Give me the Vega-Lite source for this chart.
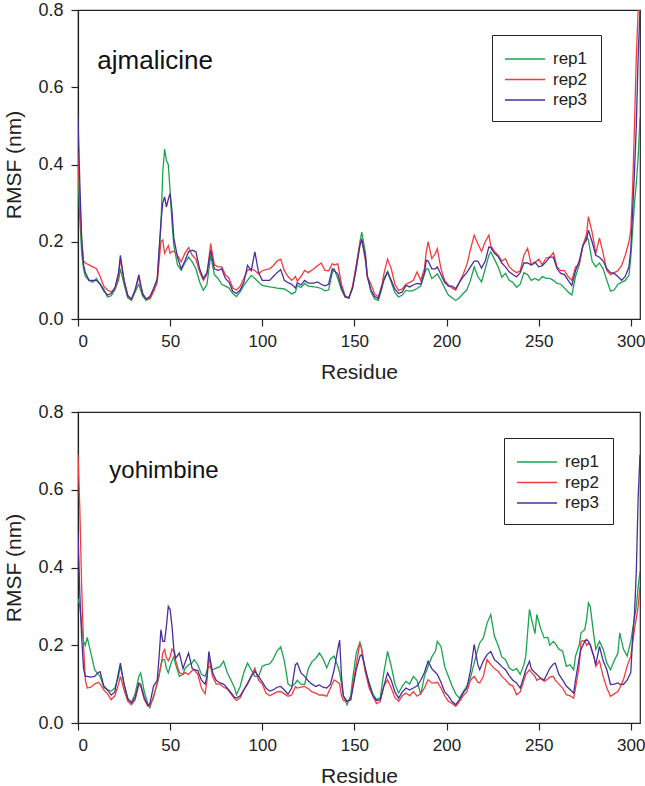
{
  "$schema": "https://vega.github.io/schema/vega-lite/v6.json",
  "background": "white",
  "padding": {"left": 3, "top": 0, "right": 6, "bottom": 0},
  "config": {
    "font": "Liberation Sans",
    "view": {"stroke": "#222", "strokeWidth": 1.2},
    "axis": {
      "grid": false,
      "domainColor": "#222",
      "domainWidth": 1.2,
      "tickColor": "#222",
      "tickWidth": 1.2,
      "tickSize": 7,
      "labelColor": "#222",
      "titleColor": "#222",
      "labelFont": "Liberation Sans",
      "titleFont": "Liberation Sans",
      "titleFontWeight": "normal",
      "labelFontSize": 17,
      "titleFontSize": 21
    },
    "legend": {
      "symbolType": "M-2,0H2",
      "symbolSize": 400,
      "symbolStrokeWidth": 1.5,
      "symbolOffset": 9,
      "labelFontSize": 17,
      "labelFont": "Liberation Sans",
      "labelColor": "#222",
      "labelOffset": 17,
      "rowPadding": 1.5,
      "padding": 13,
      "strokeColor": "#222",
      "fillColor": "white"
    }
  },
  "datasets": {
    "ajmalicine": [
      {"r":0,"rep1":0.38,"rep2":0.43,"rep3":0.52},
      {"r":1,"rep1":0.26,"rep2":0.30,"rep3":0.35},
      {"r":2,"rep1":0.17,"rep2":0.20,"rep3":0.21},
      {"r":3,"rep1":0.13,"rep2":0.15,"rep3":0.14},
      {"r":4,"rep1":0.11,"rep2":0.145,"rep3":0.12},
      {"r":6,"rep1":0.10,"rep2":0.14,"rep3":0.10},
      {"r":8,"rep1":0.095,"rep2":0.135,"rep3":0.10},
      {"r":10,"rep1":0.105,"rep2":0.13,"rep3":0.10},
      {"r":12,"rep1":0.09,"rep2":0.11,"rep3":0.09},
      {"r":14,"rep1":0.078,"rep2":0.085,"rep3":0.072},
      {"r":16,"rep1":0.057,"rep2":0.075,"rep3":0.062},
      {"r":18,"rep1":0.06,"rep2":0.07,"rep3":0.066},
      {"r":20,"rep1":0.075,"rep2":0.08,"rep3":0.08},
      {"r":22,"rep1":0.10,"rep2":0.11,"rep3":0.12},
      {"r":23,"rep1":0.13,"rep2":0.155,"rep3":0.165},
      {"r":25,"rep1":0.09,"rep2":0.10,"rep3":0.10},
      {"r":27,"rep1":0.055,"rep2":0.062,"rep3":0.06},
      {"r":29,"rep1":0.048,"rep2":0.05,"rep3":0.052},
      {"r":31,"rep1":0.07,"rep2":0.075,"rep3":0.075},
      {"r":33,"rep1":0.09,"rep2":0.108,"rep3":0.115},
      {"r":35,"rep1":0.06,"rep2":0.068,"rep3":0.065},
      {"r":37,"rep1":0.048,"rep2":0.05,"rep3":0.052},
      {"r":39,"rep1":0.055,"rep2":0.052,"rep3":0.058},
      {"r":41,"rep1":0.078,"rep2":0.07,"rep3":0.078},
      {"r":43,"rep1":0.10,"rep2":0.095,"rep3":0.105},
      {"r":45,"rep1":0.24,"rep2":0.20,"rep3":0.25},
      {"r":46,"rep1":0.38,"rep2":0.205,"rep3":0.30},
      {"r":47,"rep1":0.44,"rep2":0.17,"rep3":0.316},
      {"r":48,"rep1":0.41,"rep2":0.18,"rep3":0.29},
      {"r":49,"rep1":0.40,"rep2":0.19,"rep3":0.31},
      {"r":50,"rep1":0.33,"rep2":0.17,"rep3":0.325},
      {"r":51,"rep1":0.25,"rep2":0.175,"rep3":0.28},
      {"r":52,"rep1":0.19,"rep2":0.175,"rep3":0.21},
      {"r":54,"rep1":0.14,"rep2":0.165,"rep3":0.16},
      {"r":56,"rep1":0.126,"rep2":0.148,"rep3":0.13},
      {"r":58,"rep1":0.145,"rep2":0.17,"rep3":0.15},
      {"r":60,"rep1":0.16,"rep2":0.185,"rep3":0.174},
      {"r":62,"rep1":0.148,"rep2":0.165,"rep3":0.178},
      {"r":64,"rep1":0.13,"rep2":0.155,"rep3":0.174},
      {"r":66,"rep1":0.096,"rep2":0.122,"rep3":0.13},
      {"r":68,"rep1":0.074,"rep2":0.10,"rep3":0.105},
      {"r":70,"rep1":0.09,"rep2":0.115,"rep3":0.12},
      {"r":72,"rep1":0.165,"rep2":0.195,"rep3":0.178},
      {"r":74,"rep1":0.115,"rep2":0.14,"rep3":0.13},
      {"r":76,"rep1":0.105,"rep2":0.135,"rep3":0.126},
      {"r":78,"rep1":0.09,"rep2":0.135,"rep3":0.13},
      {"r":80,"rep1":0.085,"rep2":0.115,"rep3":0.105},
      {"r":82,"rep1":0.08,"rep2":0.105,"rep3":0.095},
      {"r":84,"rep1":0.066,"rep2":0.08,"rep3":0.072},
      {"r":86,"rep1":0.058,"rep2":0.075,"rep3":0.066},
      {"r":88,"rep1":0.07,"rep2":0.085,"rep3":0.075},
      {"r":90,"rep1":0.087,"rep2":0.105,"rep3":0.095},
      {"r":92,"rep1":0.10,"rep2":0.126,"rep3":0.139},
      {"r":94,"rep1":0.113,"rep2":0.13,"rep3":0.125},
      {"r":96,"rep1":0.105,"rep2":0.125,"rep3":0.174},
      {"r":98,"rep1":0.095,"rep2":0.117,"rep3":0.12},
      {"r":100,"rep1":0.087,"rep2":0.125,"rep3":0.10},
      {"r":102,"rep1":0.085,"rep2":0.128,"rep3":0.10},
      {"r":104,"rep1":0.083,"rep2":0.13,"rep3":0.10},
      {"r":106,"rep1":0.082,"rep2":0.138,"rep3":0.11},
      {"r":108,"rep1":0.08,"rep2":0.15,"rep3":0.12},
      {"r":110,"rep1":0.079,"rep2":0.155,"rep3":0.128},
      {"r":112,"rep1":0.078,"rep2":0.125,"rep3":0.10},
      {"r":114,"rep1":0.072,"rep2":0.11,"rep3":0.094},
      {"r":116,"rep1":0.065,"rep2":0.10,"rep3":0.09},
      {"r":118,"rep1":0.07,"rep2":0.11,"rep3":0.08},
      {"r":119,"rep1":0.087,"rep2":0.098,"rep3":0.094},
      {"r":121,"rep1":0.082,"rep2":0.11,"rep3":0.088},
      {"r":123,"rep1":0.092,"rep2":0.126,"rep3":0.10},
      {"r":125,"rep1":0.085,"rep2":0.12,"rep3":0.093},
      {"r":128,"rep1":0.083,"rep2":0.13,"rep3":0.093},
      {"r":130,"rep1":0.082,"rep2":0.138,"rep3":0.096},
      {"r":132,"rep1":0.079,"rep2":0.145,"rep3":0.09},
      {"r":134,"rep1":0.073,"rep2":0.126,"rep3":0.086},
      {"r":136,"rep1":0.075,"rep2":0.125,"rep3":0.09},
      {"r":138,"rep1":0.12,"rep2":0.143,"rep3":0.13},
      {"r":139,"rep1":0.13,"rep2":0.14,"rep3":0.125},
      {"r":141,"rep1":0.105,"rep2":0.143,"rep3":0.117},
      {"r":143,"rep1":0.075,"rep2":0.09,"rep3":0.08},
      {"r":145,"rep1":0.056,"rep2":0.06,"rep3":0.058},
      {"r":147,"rep1":0.055,"rep2":0.055,"rep3":0.054},
      {"r":149,"rep1":0.08,"rep2":0.085,"rep3":0.08},
      {"r":151,"rep1":0.135,"rep2":0.14,"rep3":0.13},
      {"r":153,"rep1":0.20,"rep2":0.195,"rep3":0.19},
      {"r":154,"rep1":0.225,"rep2":0.206,"rep3":0.206},
      {"r":156,"rep1":0.17,"rep2":0.15,"rep3":0.16},
      {"r":157,"rep1":0.113,"rep2":0.11,"rep3":0.11},
      {"r":159,"rep1":0.07,"rep2":0.09,"rep3":0.075},
      {"r":161,"rep1":0.052,"rep2":0.065,"rep3":0.058},
      {"r":163,"rep1":0.048,"rep2":0.057,"rep3":0.053},
      {"r":165,"rep1":0.08,"rep2":0.09,"rep3":0.085},
      {"r":166,"rep1":0.105,"rep2":0.117,"rep3":0.10},
      {"r":168,"rep1":0.122,"rep2":0.155,"rep3":0.122},
      {"r":170,"rep1":0.095,"rep2":0.13,"rep3":0.10},
      {"r":172,"rep1":0.068,"rep2":0.09,"rep3":0.077},
      {"r":174,"rep1":0.057,"rep2":0.074,"rep3":0.066},
      {"r":176,"rep1":0.062,"rep2":0.078,"rep3":0.07},
      {"r":178,"rep1":0.074,"rep2":0.09,"rep3":0.087},
      {"r":180,"rep1":0.072,"rep2":0.095,"rep3":0.083},
      {"r":182,"rep1":0.074,"rep2":0.10,"rep3":0.088},
      {"r":184,"rep1":0.079,"rep2":0.122,"rep3":0.092},
      {"r":186,"rep1":0.085,"rep2":0.10,"rep3":0.09},
      {"r":188,"rep1":0.115,"rep2":0.13,"rep3":0.12},
      {"r":189,"rep1":0.13,"rep2":0.174,"rep3":0.152},
      {"r":190,"rep1":0.13,"rep2":0.20,"rep3":0.15},
      {"r":192,"rep1":0.105,"rep2":0.156,"rep3":0.13},
      {"r":194,"rep1":0.112,"rep2":0.17,"rep3":0.13},
      {"r":195,"rep1":0.117,"rep2":0.182,"rep3":0.135},
      {"r":197,"rep1":0.10,"rep2":0.13,"rep3":0.115},
      {"r":199,"rep1":0.08,"rep2":0.10,"rep3":0.095},
      {"r":201,"rep1":0.062,"rep2":0.088,"rep3":0.085},
      {"r":203,"rep1":0.055,"rep2":0.08,"rep3":0.085},
      {"r":205,"rep1":0.048,"rep2":0.075,"rep3":0.079},
      {"r":207,"rep1":0.055,"rep2":0.095,"rep3":0.095},
      {"r":209,"rep1":0.066,"rep2":0.115,"rep3":0.109},
      {"r":211,"rep1":0.075,"rep2":0.14,"rep3":0.12},
      {"r":213,"rep1":0.10,"rep2":0.18,"rep3":0.135},
      {"r":215,"rep1":0.135,"rep2":0.217,"rep3":0.15},
      {"r":217,"rep1":0.11,"rep2":0.195,"rep3":0.15},
      {"r":219,"rep1":0.096,"rep2":0.175,"rep3":0.132},
      {"r":221,"rep1":0.13,"rep2":0.20,"rep3":0.15},
      {"r":223,"rep1":0.165,"rep2":0.217,"rep3":0.187},
      {"r":224,"rep1":0.174,"rep2":0.19,"rep3":0.185},
      {"r":226,"rep1":0.155,"rep2":0.175,"rep3":0.17},
      {"r":228,"rep1":0.135,"rep2":0.165,"rep3":0.162},
      {"r":230,"rep1":0.108,"rep2":0.15,"rep3":0.145},
      {"r":232,"rep1":0.118,"rep2":0.156,"rep3":0.135},
      {"r":234,"rep1":0.10,"rep2":0.135,"rep3":0.122},
      {"r":236,"rep1":0.095,"rep2":0.126,"rep3":0.115},
      {"r":238,"rep1":0.082,"rep2":0.12,"rep3":0.109},
      {"r":240,"rep1":0.09,"rep2":0.125,"rep3":0.12},
      {"r":242,"rep1":0.12,"rep2":0.165,"rep3":0.145},
      {"r":244,"rep1":0.115,"rep2":0.183,"rep3":0.145},
      {"r":246,"rep1":0.10,"rep2":0.14,"rep3":0.14},
      {"r":248,"rep1":0.105,"rep2":0.145,"rep3":0.148},
      {"r":250,"rep1":0.10,"rep2":0.155,"rep3":0.135},
      {"r":252,"rep1":0.11,"rep2":0.14,"rep3":0.138},
      {"r":254,"rep1":0.105,"rep2":0.158,"rep3":0.148},
      {"r":256,"rep1":0.105,"rep2":0.16,"rep3":0.16},
      {"r":258,"rep1":0.10,"rep2":0.172,"rep3":0.16},
      {"r":260,"rep1":0.092,"rep2":0.135,"rep3":0.13},
      {"r":262,"rep1":0.09,"rep2":0.125,"rep3":0.118},
      {"r":264,"rep1":0.08,"rep2":0.125,"rep3":0.115},
      {"r":266,"rep1":0.07,"rep2":0.11,"rep3":0.10},
      {"r":268,"rep1":0.062,"rep2":0.10,"rep3":0.087},
      {"r":270,"rep1":0.11,"rep2":0.135,"rep3":0.125},
      {"r":272,"rep1":0.14,"rep2":0.14,"rep3":0.15},
      {"r":274,"rep1":0.19,"rep2":0.19,"rep3":0.19},
      {"r":276,"rep1":0.212,"rep2":0.22,"rep3":0.205},
      {"r":277,"rep1":0.205,"rep2":0.265,"rep3":0.23},
      {"r":279,"rep1":0.15,"rep2":0.225,"rep3":0.20},
      {"r":281,"rep1":0.135,"rep2":0.17,"rep3":0.165},
      {"r":283,"rep1":0.145,"rep2":0.21,"rep3":0.16},
      {"r":285,"rep1":0.13,"rep2":0.17,"rep3":0.15},
      {"r":287,"rep1":0.10,"rep2":0.125,"rep3":0.13},
      {"r":289,"rep1":0.072,"rep2":0.115,"rep3":0.12},
      {"r":291,"rep1":0.075,"rep2":0.12,"rep3":0.118},
      {"r":293,"rep1":0.09,"rep2":0.125,"rep3":0.11},
      {"r":295,"rep1":0.095,"rep2":0.138,"rep3":0.10},
      {"r":297,"rep1":0.10,"rep2":0.165,"rep3":0.11},
      {"r":299,"rep1":0.113,"rep2":0.20,"rep3":0.135},
      {"r":300,"rep1":0.16,"rep2":0.23,"rep3":0.18},
      {"r":301,"rep1":0.23,"rep2":0.34,"rep3":0.28},
      {"r":302,"rep1":0.30,"rep2":0.50,"rep3":0.38},
      {"r":303,"rep1":0.35,"rep2":0.68,"rep3":0.50},
      {"r":304,"rep1":0.42,"rep2":0.80,"rep3":0.68},
      {"r":305,"rep1":0.52,"rep2":0.80,"rep3":0.80}
    ],
    "yohimbine": [
      {"r":0,"rep1":0.32,"rep2":0.69,"rep3":0.49},
      {"r":1,"rep1":0.30,"rep2":0.55,"rep3":0.33},
      {"r":2,"rep1":0.25,"rep2":0.35,"rep3":0.22},
      {"r":3,"rep1":0.21,"rep2":0.20,"rep3":0.14},
      {"r":4,"rep1":0.20,"rep2":0.11,"rep3":0.12},
      {"r":5,"rep1":0.22,"rep2":0.09,"rep3":0.12},
      {"r":7,"rep1":0.18,"rep2":0.092,"rep3":0.118},
      {"r":9,"rep1":0.137,"rep2":0.10,"rep3":0.12},
      {"r":11,"rep1":0.125,"rep2":0.105,"rep3":0.13},
      {"r":12,"rep1":0.12,"rep2":0.10,"rep3":0.132},
      {"r":14,"rep1":0.092,"rep2":0.085,"rep3":0.095},
      {"r":16,"rep1":0.085,"rep2":0.075,"rep3":0.085},
      {"r":18,"rep1":0.082,"rep2":0.06,"rep3":0.072},
      {"r":20,"rep1":0.09,"rep2":0.07,"rep3":0.08},
      {"r":22,"rep1":0.12,"rep2":0.10,"rep3":0.13},
      {"r":23,"rep1":0.146,"rep2":0.12,"rep3":0.154},
      {"r":25,"rep1":0.10,"rep2":0.085,"rep3":0.10},
      {"r":27,"rep1":0.064,"rep2":0.056,"rep3":0.062},
      {"r":29,"rep1":0.052,"rep2":0.047,"rep3":0.052},
      {"r":31,"rep1":0.075,"rep2":0.06,"rep3":0.065},
      {"r":33,"rep1":0.12,"rep2":0.099,"rep3":0.103},
      {"r":34,"rep1":0.129,"rep2":0.095,"rep3":0.10},
      {"r":36,"rep1":0.08,"rep2":0.06,"rep3":0.065},
      {"r":38,"rep1":0.048,"rep2":0.043,"rep3":0.045},
      {"r":39,"rep1":0.039,"rep2":0.045,"rep3":0.05},
      {"r":41,"rep1":0.07,"rep2":0.065,"rep3":0.095},
      {"r":43,"rep1":0.10,"rep2":0.105,"rep3":0.11},
      {"r":44,"rep1":0.12,"rep2":0.125,"rep3":0.17},
      {"r":45,"rep1":0.15,"rep2":0.146,"rep3":0.24},
      {"r":46,"rep1":0.163,"rep2":0.18,"rep3":0.21},
      {"r":47,"rep1":0.163,"rep2":0.189,"rep3":0.21},
      {"r":48,"rep1":0.14,"rep2":0.167,"rep3":0.25},
      {"r":49,"rep1":0.129,"rep2":0.16,"rep3":0.30},
      {"r":50,"rep1":0.146,"rep2":0.17,"rep3":0.292},
      {"r":51,"rep1":0.16,"rep2":0.19,"rep3":0.25},
      {"r":52,"rep1":0.17,"rep2":0.185,"rep3":0.19},
      {"r":53,"rep1":0.15,"rep2":0.16,"rep3":0.167},
      {"r":55,"rep1":0.12,"rep2":0.13,"rep3":0.18},
      {"r":57,"rep1":0.125,"rep2":0.125,"rep3":0.14},
      {"r":58,"rep1":0.14,"rep2":0.13,"rep3":0.154},
      {"r":60,"rep1":0.15,"rep2":0.125,"rep3":0.18},
      {"r":62,"rep1":0.155,"rep2":0.135,"rep3":0.14},
      {"r":63,"rep1":0.163,"rep2":0.137,"rep3":0.137},
      {"r":65,"rep1":0.15,"rep2":0.125,"rep3":0.135},
      {"r":67,"rep1":0.125,"rep2":0.09,"rep3":0.11},
      {"r":69,"rep1":0.12,"rep2":0.075,"rep3":0.10},
      {"r":70,"rep1":0.135,"rep2":0.11,"rep3":0.12},
      {"r":71,"rep1":0.146,"rep2":0.17,"rep3":0.184},
      {"r":73,"rep1":0.137,"rep2":0.12,"rep3":0.13},
      {"r":75,"rep1":0.141,"rep2":0.10,"rep3":0.11},
      {"r":77,"rep1":0.145,"rep2":0.10,"rep3":0.103},
      {"r":79,"rep1":0.159,"rep2":0.092,"rep3":0.10},
      {"r":81,"rep1":0.13,"rep2":0.088,"rep3":0.09},
      {"r":83,"rep1":0.11,"rep2":0.075,"rep3":0.078},
      {"r":85,"rep1":0.09,"rep2":0.062,"rep3":0.066},
      {"r":86,"rep1":0.073,"rep2":0.058,"rep3":0.064},
      {"r":88,"rep1":0.094,"rep2":0.065,"rep3":0.07},
      {"r":90,"rep1":0.13,"rep2":0.085,"rep3":0.085},
      {"r":92,"rep1":0.154,"rep2":0.103,"rep3":0.10},
      {"r":94,"rep1":0.137,"rep2":0.12,"rep3":0.12},
      {"r":96,"rep1":0.12,"rep2":0.141,"rep3":0.133},
      {"r":98,"rep1":0.12,"rep2":0.11,"rep3":0.12},
      {"r":100,"rep1":0.146,"rep2":0.10,"rep3":0.106},
      {"r":102,"rep1":0.15,"rep2":0.077,"rep3":0.09},
      {"r":104,"rep1":0.152,"rep2":0.07,"rep3":0.082},
      {"r":106,"rep1":0.165,"rep2":0.075,"rep3":0.085},
      {"r":108,"rep1":0.185,"rep2":0.08,"rep3":0.092},
      {"r":110,"rep1":0.196,"rep2":0.081,"rep3":0.094},
      {"r":112,"rep1":0.16,"rep2":0.075,"rep3":0.085},
      {"r":114,"rep1":0.10,"rep2":0.069,"rep3":0.074},
      {"r":116,"rep1":0.094,"rep2":0.072,"rep3":0.09},
      {"r":118,"rep1":0.103,"rep2":0.094,"rep3":0.15},
      {"r":119,"rep1":0.11,"rep2":0.09,"rep3":0.154},
      {"r":121,"rep1":0.10,"rep2":0.092,"rep3":0.129},
      {"r":123,"rep1":0.099,"rep2":0.094,"rep3":0.12},
      {"r":125,"rep1":0.14,"rep2":0.088,"rep3":0.108},
      {"r":127,"rep1":0.158,"rep2":0.08,"rep3":0.10},
      {"r":129,"rep1":0.166,"rep2":0.077,"rep3":0.094},
      {"r":131,"rep1":0.18,"rep2":0.072,"rep3":0.098},
      {"r":133,"rep1":0.165,"rep2":0.072,"rep3":0.092},
      {"r":135,"rep1":0.142,"rep2":0.069,"rep3":0.09},
      {"r":137,"rep1":0.165,"rep2":0.09,"rep3":0.10},
      {"r":139,"rep1":0.172,"rep2":0.111,"rep3":0.137},
      {"r":141,"rep1":0.146,"rep2":0.105,"rep3":0.19},
      {"r":142,"rep1":0.13,"rep2":0.10,"rep3":0.213},
      {"r":143,"rep1":0.10,"rep2":0.07,"rep3":0.12},
      {"r":144,"rep1":0.07,"rep2":0.058,"rep3":0.07},
      {"r":146,"rep1":0.047,"rep2":0.055,"rep3":0.056},
      {"r":148,"rep1":0.07,"rep2":0.06,"rep3":0.06},
      {"r":149,"rep1":0.111,"rep2":0.095,"rep3":0.085},
      {"r":151,"rep1":0.18,"rep2":0.15,"rep3":0.137},
      {"r":153,"rep1":0.208,"rep2":0.206,"rep3":0.172},
      {"r":154,"rep1":0.19,"rep2":0.189,"rep3":0.176},
      {"r":156,"rep1":0.13,"rep2":0.13,"rep3":0.14},
      {"r":158,"rep1":0.105,"rep2":0.09,"rep3":0.10},
      {"r":160,"rep1":0.075,"rep2":0.07,"rep3":0.07},
      {"r":162,"rep1":0.06,"rep2":0.05,"rep3":0.058},
      {"r":164,"rep1":0.065,"rep2":0.055,"rep3":0.06},
      {"r":166,"rep1":0.13,"rep2":0.095,"rep3":0.095},
      {"r":168,"rep1":0.184,"rep2":0.111,"rep3":0.129},
      {"r":170,"rep1":0.146,"rep2":0.09,"rep3":0.11},
      {"r":172,"rep1":0.10,"rep2":0.065,"rep3":0.08},
      {"r":174,"rep1":0.077,"rep2":0.056,"rep3":0.064},
      {"r":176,"rep1":0.095,"rep2":0.07,"rep3":0.08},
      {"r":178,"rep1":0.107,"rep2":0.077,"rep3":0.09},
      {"r":180,"rep1":0.10,"rep2":0.07,"rep3":0.085},
      {"r":182,"rep1":0.12,"rep2":0.081,"rep3":0.09},
      {"r":184,"rep1":0.11,"rep2":0.069,"rep3":0.095},
      {"r":186,"rep1":0.073,"rep2":0.075,"rep3":0.11},
      {"r":188,"rep1":0.12,"rep2":0.09,"rep3":0.13},
      {"r":190,"rep1":0.146,"rep2":0.111,"rep3":0.159},
      {"r":192,"rep1":0.17,"rep2":0.103,"rep3":0.14},
      {"r":194,"rep1":0.185,"rep2":0.103,"rep3":0.13},
      {"r":195,"rep1":0.21,"rep2":0.105,"rep3":0.125},
      {"r":197,"rep1":0.197,"rep2":0.09,"rep3":0.105},
      {"r":199,"rep1":0.145,"rep2":0.07,"rep3":0.08},
      {"r":201,"rep1":0.12,"rep2":0.056,"rep3":0.07},
      {"r":203,"rep1":0.095,"rep2":0.05,"rep3":0.055},
      {"r":205,"rep1":0.075,"rep2":0.043,"rep3":0.047},
      {"r":207,"rep1":0.064,"rep2":0.055,"rep3":0.06},
      {"r":209,"rep1":0.08,"rep2":0.07,"rep3":0.077},
      {"r":211,"rep1":0.094,"rep2":0.08,"rep3":0.09},
      {"r":213,"rep1":0.116,"rep2":0.11,"rep3":0.135},
      {"r":215,"rep1":0.154,"rep2":0.12,"rep3":0.202},
      {"r":217,"rep1":0.19,"rep2":0.105,"rep3":0.15},
      {"r":218,"rep1":0.206,"rep2":0.103,"rep3":0.137},
      {"r":220,"rep1":0.219,"rep2":0.12,"rep3":0.16},
      {"r":222,"rep1":0.257,"rep2":0.163,"rep3":0.176},
      {"r":224,"rep1":0.279,"rep2":0.15,"rep3":0.184},
      {"r":226,"rep1":0.223,"rep2":0.14,"rep3":0.163},
      {"r":228,"rep1":0.20,"rep2":0.133,"rep3":0.155},
      {"r":230,"rep1":0.17,"rep2":0.12,"rep3":0.145},
      {"r":232,"rep1":0.163,"rep2":0.111,"rep3":0.137},
      {"r":234,"rep1":0.142,"rep2":0.10,"rep3":0.122},
      {"r":236,"rep1":0.135,"rep2":0.095,"rep3":0.11},
      {"r":238,"rep1":0.14,"rep2":0.073,"rep3":0.103},
      {"r":240,"rep1":0.125,"rep2":0.08,"rep3":0.09},
      {"r":242,"rep1":0.15,"rep2":0.11,"rep3":0.12},
      {"r":243,"rep1":0.172,"rep2":0.125,"rep3":0.137},
      {"r":245,"rep1":0.292,"rep2":0.137,"rep3":0.159},
      {"r":246,"rep1":0.27,"rep2":0.13,"rep3":0.14},
      {"r":248,"rep1":0.23,"rep2":0.12,"rep3":0.129},
      {"r":249,"rep1":0.279,"rep2":0.11,"rep3":0.125},
      {"r":251,"rep1":0.244,"rep2":0.115,"rep3":0.115},
      {"r":253,"rep1":0.219,"rep2":0.107,"rep3":0.111},
      {"r":255,"rep1":0.22,"rep2":0.113,"rep3":0.13},
      {"r":256,"rep1":0.20,"rep2":0.118,"rep3":0.14},
      {"r":258,"rep1":0.21,"rep2":0.12,"rep3":0.152},
      {"r":259,"rep1":0.205,"rep2":0.11,"rep3":0.154},
      {"r":261,"rep1":0.19,"rep2":0.10,"rep3":0.125},
      {"r":263,"rep1":0.185,"rep2":0.09,"rep3":0.111},
      {"r":265,"rep1":0.146,"rep2":0.073,"rep3":0.095},
      {"r":267,"rep1":0.15,"rep2":0.07,"rep3":0.086},
      {"r":269,"rep1":0.137,"rep2":0.064,"rep3":0.077},
      {"r":270,"rep1":0.172,"rep2":0.09,"rep3":0.11},
      {"r":272,"rep1":0.20,"rep2":0.146,"rep3":0.167},
      {"r":273,"rep1":0.232,"rep2":0.21,"rep3":0.19},
      {"r":275,"rep1":0.24,"rep2":0.212,"rep3":0.21},
      {"r":276,"rep1":0.266,"rep2":0.20,"rep3":0.215},
      {"r":277,"rep1":0.309,"rep2":0.205,"rep3":0.21},
      {"r":278,"rep1":0.30,"rep2":0.202,"rep3":0.20},
      {"r":280,"rep1":0.223,"rep2":0.17,"rep3":0.17},
      {"r":281,"rep1":0.189,"rep2":0.146,"rep3":0.15},
      {"r":283,"rep1":0.21,"rep2":0.16,"rep3":0.197},
      {"r":285,"rep1":0.19,"rep2":0.12,"rep3":0.16},
      {"r":287,"rep1":0.154,"rep2":0.09,"rep3":0.137},
      {"r":289,"rep1":0.137,"rep2":0.069,"rep3":0.099},
      {"r":291,"rep1":0.16,"rep2":0.075,"rep3":0.10},
      {"r":293,"rep1":0.18,"rep2":0.081,"rep3":0.103},
      {"r":294,"rep1":0.232,"rep2":0.09,"rep3":0.10},
      {"r":296,"rep1":0.19,"rep2":0.111,"rep3":0.099},
      {"r":298,"rep1":0.172,"rep2":0.146,"rep3":0.11},
      {"r":300,"rep1":0.21,"rep2":0.172,"rep3":0.13},
      {"r":301,"rep1":0.24,"rep2":0.206,"rep3":0.22},
      {"r":302,"rep1":0.27,"rep2":0.24,"rep3":0.28},
      {"r":303,"rep1":0.30,"rep2":0.27,"rep3":0.39},
      {"r":304,"rep1":0.35,"rep2":0.30,"rep3":0.58},
      {"r":305,"rep1":0.39,"rep2":0.35,"rep3":0.69}
    ]
  },
  "resolve": {"legend": {"color": "independent"}},
  "spacing": 19,
  "vconcat": [
    {
      "width": 562,
      "height": 309,
      "layer": [
        {
          "data": {"name": "ajmalicine"},
          "transform": [{"fold": ["rep1", "rep2", "rep3"], "as": ["rep", "rmsf"]}],
          "mark": {"type": "line", "strokeWidth": 1.3, "clip": true},
          "encoding": {
            "x": {
              "field": "r", "type": "quantitative",
              "scale": {"domain": [0, 305], "nice": false, "zero": false},
              "axis": {"title": "Residue", "values": [0, 50, 100, 150, 200, 250, 300], "labelPadding": 7, "titlePadding": 12}
            },
            "y": {
              "field": "rmsf", "type": "quantitative",
              "scale": {"domain": [0, 0.8], "nice": false},
              "axis": {"title": "RMSF (nm)", "values": [0, 0.2, 0.4, 0.6, 0.8], "format": ".1f", "labelFontSize": 18, "labelPadding": 8, "titlePadding": 13}
            },
            "color": {
              "field": "rep", "type": "nominal",
              "scale": {"domain": ["rep1", "rep2", "rep3"], "range": ["#1aa44e", "#f43c3c", "#4a2f9c"]},
              "legend": {"title": null, "orient": "none", "legendX": 414, "legendY": 25}
            }
          }
        },
        {
          "data": {"values": [{"name": "ajmalicine"}]},
          "mark": {"type": "text", "align": "left", "baseline": "alphabetic", "fontSize": 26, "font": "Liberation Sans", "color": "#111"},
          "encoding": {
            "x": {"datum": 10.5, "type": "quantitative"},
            "y": {"datum": 0.648, "type": "quantitative"},
            "text": {"field": "name"}
          }
        }
      ]
    },
    {
      "width": 562,
      "height": 311,
      "layer": [
        {
          "data": {"name": "yohimbine"},
          "transform": [{"fold": ["rep1", "rep2", "rep3"], "as": ["rep", "rmsf"]}],
          "mark": {"type": "line", "strokeWidth": 1.3, "clip": true},
          "encoding": {
            "x": {
              "field": "r", "type": "quantitative",
              "scale": {"domain": [0, 305], "nice": false, "zero": false},
              "axis": {"title": "Residue", "values": [0, 50, 100, 150, 200, 250, 300], "labelPadding": 7, "titlePadding": 12}
            },
            "y": {
              "field": "rmsf", "type": "quantitative",
              "scale": {"domain": [0, 0.8], "nice": false},
              "axis": {"title": "RMSF (nm)", "values": [0, 0.2, 0.4, 0.6, 0.8], "format": ".1f", "labelFontSize": 18, "labelPadding": 8, "titlePadding": 13}
            },
            "color": {
              "field": "rep", "type": "nominal",
              "scale": {"domain": ["rep1", "rep2", "rep3"], "range": ["#1aa44e", "#f43c3c", "#4a2f9c"]},
              "legend": {"title": null, "orient": "none", "legendX": 426, "legendY": 26}
            }
          }
        },
        {
          "data": {"values": [{"name": "yohimbine"}]},
          "mark": {"type": "text", "align": "left", "baseline": "alphabetic", "fontSize": 24, "font": "Liberation Sans", "color": "#111"},
          "encoding": {
            "x": {"datum": 17, "type": "quantitative"},
            "y": {"datum": 0.631, "type": "quantitative"},
            "text": {"field": "name"}
          }
        }
      ]
    }
  ]
}
